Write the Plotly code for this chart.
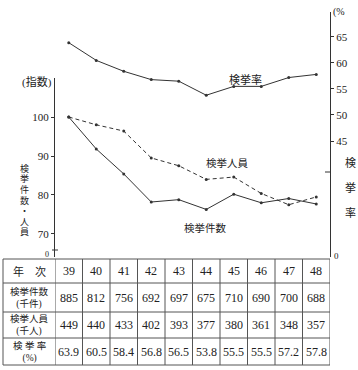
import plotly.graph_objects as go

years = [39, 40, 41, 42, 43, 44, 45, 46, 47, 48]
year_labels = ["39", "40", "41", "42", "43", "44", "45", "46", "47", "48"]
cases_k = [885, 812, 756, 692, 697, 675, 710, 690, 700, 688]      # 検挙件数(千件)
persons_k = [449, 440, 433, 402, 393, 377, 380, 361, 348, 357]    # 検挙人員(千人)
rate_pct = [63.9, 60.5, 58.4, 56.8, 56.5, 53.8, 55.5, 55.5, 57.2, 57.8]  # 検挙率(%)
cases_index = [100, 91.8, 85.4, 78.2, 78.8, 76.3, 80.2, 78.0, 79.1, 77.7]
persons_index = [100, 98.0, 96.4, 89.5, 87.5, 84.0, 84.6, 80.4, 77.5, 79.5]
row_labels = ["年　次", "検挙件数<br>(千件)", "検挙人員<br>(千人)", "検 挙 率<br>(%)"]
left_title = "検挙件数・人員"
right_title = "検挙率"

W, H = 358, 370
FONT = "Liberation Serif, Noto Sans CJK JP, serif"
INK = "#333333"
TXT = "#222222"

def px(x):
    return x / W

def py(y):
    return 1 - y / H

fig = go.Figure()

fig.add_trace(go.Scatter(x=years, y=cases_index, mode="lines+markers",
                         line=dict(color=INK, width=1), marker=dict(size=3, color=INK),
                         xaxis="x", yaxis="y", showlegend=False))
fig.add_trace(go.Scatter(x=years, y=persons_index, mode="lines+markers",
                         line=dict(color=INK, width=1, dash="4px,3px"), marker=dict(size=3, color=INK),
                         xaxis="x", yaxis="y", showlegend=False))
fig.add_trace(go.Scatter(x=years, y=rate_pct, mode="lines+markers",
                         line=dict(color=INK, width=1), marker=dict(size=3, color=INK),
                         xaxis="x2", yaxis="y2", showlegend=False))

xr = [38.5, 48.5]
fig.update_layout(
    width=W, height=H, margin=dict(l=0, r=0, t=0, b=0),
    paper_bgcolor="white", plot_bgcolor="rgba(0,0,0,0)",
    font=dict(family=FONT, size=11, color=TXT),
    xaxis=dict(domain=[px(55), px(330)], range=xr, visible=False, anchor="y"),
    xaxis2=dict(domain=[px(55), px(330)], range=xr, visible=False, anchor="y2", overlaying="x"),
    yaxis=dict(domain=[py(257), py(78)], range=[64.1, 110], anchor="x",
               tickvals=[70, 80, 90, 100], ticks="outside", ticklen=3, tickcolor=INK,
               showline=True, linecolor=INK, linewidth=1, showgrid=False, zeroline=False,
               tickfont=dict(size=11)),
    yaxis2=dict(domain=[py(257), py(12)], range=[22.7, 69.8], anchor="x2", side="right",
                tickvals=[45, 50, 55, 60, 65], ticks="outside", ticklen=3, tickcolor=INK,
                showline=True, linecolor=INK, linewidth=1, showgrid=False, zeroline=False,
                tickfont=dict(size=11)),
)

def ann(text, x, y, size=11, xanchor="center", yanchor="middle", xref="paper"):
    fig.add_annotation(text=text, x=(px(x) if xref == "paper" else x), y=py(y), xref=xref, yref="paper",
                       showarrow=False, font=dict(size=size, family=FONT, color=TXT),
                       xanchor=xanchor, yanchor=yanchor)

ann("検挙率", 245, 79, 11)
ann("検挙人員", 227, 163, 10.5)
ann("検挙件数", 205, 228, 10.5)
ann("(指数)", 37, 82, 11)
ann("(%", 331, 12, 10, xanchor="left")
ann("0", 332, 256, 9, xanchor="left")
ann("0", 51, 255, 8, xanchor="right")
for k, ch in enumerate(left_title):
    ann(ch, 24, 168 + 10.7 * k, 9)
for k, ch in enumerate(right_title):
    ann(ch, 350, 163 + 25 * k, 11)

# axis break marks
line_style = dict(color=INK, width=1)
fig.add_shape(type="line", xref="paper", yref="paper", x0=px(325), x1=px(331), y0=py(172), y1=py(172), line=line_style)
fig.add_shape(type="line", xref="paper", yref="paper", x0=px(52), x1=px(58), y0=py(250), y1=py(250), line=line_style)

# table drawn with shapes + annotations
row_edges = [259, 283, 312, 338, 365]
tline = dict(color="#555555", width=1)
for ye in row_edges:
    fig.add_shape(type="line", xref="paper", yref="paper", x0=px(3), x1=px(330), y0=py(ye), y1=py(ye), line=tline)
fig.add_shape(type="line", xref="paper", yref="paper", x0=px(3), x1=px(3),
              y0=py(row_edges[0]), y1=py(row_edges[-1]), line=tline)
for yr in years:
    fig.add_shape(type="line", xref="x", yref="paper", x0=yr - 0.5, x1=yr - 0.5,
                  y0=py(row_edges[0]), y1=py(row_edges[-1]), line=tline)
fig.add_shape(type="line", xref="x", yref="paper", x0=years[-1] + 0.5, x1=years[-1] + 0.5,
              y0=py(row_edges[0]), y1=py(row_edges[-1]), line=tline)

row_centers = [(row_edges[k] + row_edges[k + 1]) / 2 for k in range(4)]
for k, lab in enumerate(row_labels):
    ann(lab, 29, row_centers[k], 9.5 if k else 11)
for i, yr in enumerate(years):
    vals = [year_labels[i], str(cases_k[i]), str(persons_k[i]), f"{rate_pct[i]:.1f}"]
    for k, v in enumerate(vals):
        ann(v, yr, row_centers[k], 12, xref="x")

fig.write_html("out.html", config={"displayModeBar": False},
               post_script="document.body.style.margin='0';document.body.style.overflow='hidden';")
